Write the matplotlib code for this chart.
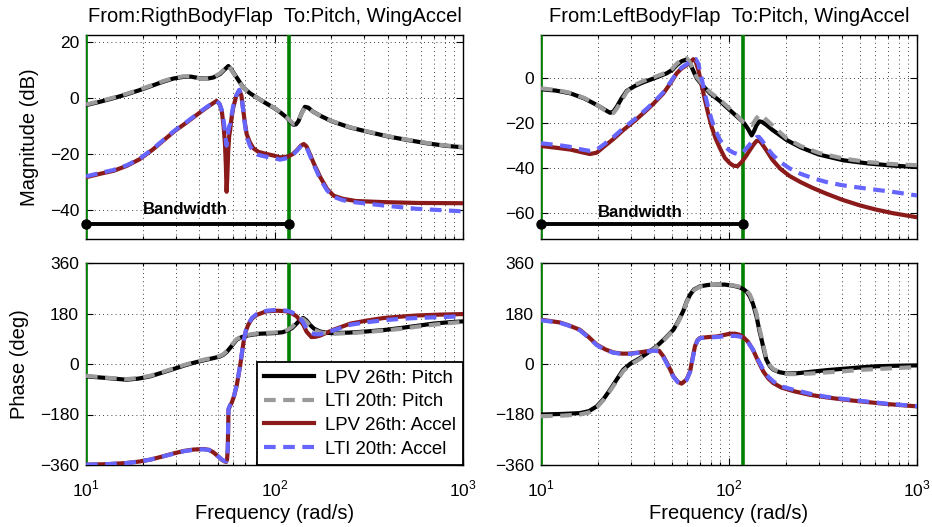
import matplotlib
matplotlib.use("Agg")
import matplotlib.pyplot as plt
from matplotlib.ticker import LogLocator, NullFormatter

plt.rcParams['font.family'] = ['Liberation Sans', 'DejaVu Sans']
plt.rcParams['mathtext.fontset'] = 'custom'
plt.rcParams['mathtext.rm'] = 'Liberation Sans'

# ---------------- data ----------------
titles = ["From:RigthBodyFlap  To:Pitch, WingAccel",
          "From:LeftBodyFlap  To:Pitch, WingAccel"]
legend_labels = ["LPV 26th: Pitch", "LTI 20th: Pitch", "LPV 26th: Accel", "LTI 20th: Accel"]
bandwidth_freq = 119
bandwidth_level = [-45, -65]

# top-left magnitude (dB)
w_tl_p = [10, 12, 14, 16.5, 19.3, 22.5, 25.7, 29, 32.8, 36, 40.3, 44, 47.4, 51.4, 54.5, 56.9,
          59, 63.0, 68.3, 74, 80.5, 90, 100, 107, 116, 122, 126, 130, 134, 139, 145, 151, 160,
          175, 200, 252, 320, 400, 500, 650, 800, 1000]
mag_tl_lpv_p = [-2.5, -1.2, 0, 1.4, 2.9, 4.5, 5.9, 7.0, 7.6, 7.7, 7.1, 7.0, 7.4, 8.6, 10.3, 11.5,
                10.3, 7.4, 3.8, 1.8, 0.2, -1.8, -3.6, -5.0, -6.9, -8.5, -9.5, -9.4, -8.2, -5.5,
                -3.1, -3.4, -4.8, -6.3, -8.2, -10.5, -12.2, -13.7, -14.9, -16.2, -17.0, -17.6]
mag_tl_lti_p = [-2.3, -1.0, 0.2, 1.6, 3.1, 4.7, 6.1, 7.2, 7.8, 7.8, 7.0, 6.9, 7.5, 8.9, 10.6, 11.8,
                10.1, 7.2, 3.7, 1.8, 0.2, -1.7, -3.5, -4.9, -6.8, -8.3, -9.2, -9.2, -8.0, -5.6,
                -3.3, -3.5, -4.8, -6.3, -8.1, -10.4, -12.1, -13.6, -14.8, -16.1, -16.9, -17.5]
w_tl_a = [10, 12, 14, 16.5, 19.3, 22.5, 25.7, 29.5, 34.2, 39, 43.6, 47, 49.3, 51, 52.5, 53.7,
          54.6, 55.2, 55.7, 56.2, 56.8, 57.5, 58.1, 59.2, 60.4, 62.5, 65.0, 66.7, 68.3, 69.7,
          71.2, 74, 77.2, 82, 90.9, 100, 107, 118, 125, 132, 138, 143, 148, 154, 162, 175, 190,
          206, 230, 270, 378, 568, 1000]
mag_tl_lpv_a = [-28.3, -27, -26, -24.2, -21.8, -18.5, -15.2, -11.8, -8.7, -5.8, -3.4, -1.9, -1.0,
                -2.0, -4.5, -10, -16.3, -24, -33.5, -28, -19, -13.5, -11.7, -7, -3.4, 0.5, 2.8,
                1.0, -4.5, -9, -12.9, -15.8, -17.9, -19.2, -20.0, -20.6, -21.2, -20.9, -20,
                -18.5, -17.0, -16.4, -17.3, -20, -23.5, -28.3, -32.5, -34.9, -36.0, -36.8,
                -37.2, -37.5, -37.6]
mag_tl_lti_a = [-28.0, -26.7, -25.7, -24.0, -21.6, -18.3, -15.0, -11.6, -8.5, -5.6, -3.2, -1.8,
                -1.1, -2.0, -4.2, -8, -12, -15, -17, -15, -12, -10, -9.5, -6, -2.8, 0.8, 3.0, 1.3,
                -4.5, -9.5, -13.8, -17, -19, -20.3, -21.0, -21.5, -22.0, -21.4, -20.3, -18.7,
                -17.2, -16.6, -17.6, -20.5, -24, -29, -33, -35.3, -36.5, -37.3, -38.4, -39.6,
                -40.5]

# top-right magnitude (dB)
w_tr_p = [10, 12, 14.3, 17, 19.8, 21.8, 23.3, 24.3, 25.3, 26.8, 28.6, 31.5, 35.0, 40, 46.6, 50,
          52.7, 56, 59.6, 62.5, 67.3, 72, 79.2, 89.6, 101, 110, 119, 126, 132, 136, 140, 145,
          150, 158, 170, 203, 240, 300, 406, 550, 750, 1000]
mag_tr_lpv_p = [-4.9, -5.5, -6.7, -9.0, -11.9, -14.0, -15.4, -14.8, -12.7, -9.0, -5.6, -3.5,
                -1.8, 0, 2.2, 3.8, 5.9, 7.6, 8.4, 6.0, 0, -3.0, -6.7, -10.2, -14.2, -17.0, -19.5,
                -22.5, -25.5, -23.5, -21.0, -19.2, -19.5, -20.8, -23.0, -27.6, -30.8, -34.0,
                -36.6, -38.0, -39.0, -39.6]
mag_tr_lti_p = [-4.5, -5.2, -6.5, -8.8, -11.8, -14.2, -15.8, -15.5, -13.5, -10.0, -6.0, -3.0,
                -1.2, 0.5, 2.6, 4.3, 6.5, 8.3, 9.0, 6.5, 0.5, -2.5, -6.2, -9.6, -13.6, -16.5,
                -19.5, -20.5, -20.9, -19.5, -17.8, -16.4, -16.8, -18.5, -21.0, -26.9, -30.2,
                -33.3, -35.8, -37.4, -38.3, -38.8]
w_tr_a = [10, 12.6, 14.3, 16.5, 18.2, 19.8, 21.4, 24.2, 27.4, 31.5, 36.5, 40, 44.8, 49, 52.7, 56,
          59.6, 62.2, 64.6, 66.5, 68.7, 71.5, 74.5, 77.5, 80.8, 85, 89.6, 95, 101, 105.5, 111,
          117, 123, 129, 135, 140, 144, 149, 158, 170, 187, 210, 240, 280, 330, 400, 496, 600,
          746, 1000]
mag_tr_lpv_a = [-30.2, -31.2, -31.8, -33.0, -33.8, -33.2, -30.8, -27.2, -23.1, -19.0, -14.2,
                -11.0, -6.7, -2.0, 2.2, 4.4, 5.9, 7.2, 8.5, 7.5, 3.7, -3, -9.7, -15.8, -21.6,
                -27, -31.3, -35.5, -37.9, -39.0, -39.2, -37.3, -34.8, -32.1, -29.6, -28.0,
                -27.6, -29.0, -32.1, -36.3, -40.3, -43.6, -46.3, -49.0, -51.5, -54.2, -56.7,
                -58.5, -60.2, -62.0]
mag_tr_lti_a = [-29.0, -29.9, -30.6, -31.8, -32.4, -31.8, -29.8, -26.3, -22.3, -18.3, -13.6,
                -10.5, -6.2, -1.5, 2.5, 4.8, 6.3, 7.5, 8.4, 8.6, 6.5, 0, -7, -13, -18.5, -23.5,
                -27.5, -30.5, -32.3, -33.2, -33.8, -33.6, -31.5, -29.5, -27.5, -26.3, -26.1,
                -27.5, -30.6, -34.0, -37.3, -40.2, -42.6, -44.6, -46.3, -47.7, -48.8, -49.7,
                -50.7, -52.3]

# bottom-left phase (deg)
w_bl_p = [10, 12.9, 16.4, 19, 21.9, 25, 29.1, 33, 37.1, 42, 47.4, 51, 53.6, 56, 58.1, 60.5, 63.1,
          67, 71.3, 77, 83.6, 98.7, 110, 116, 124, 131, 137, 142, 148, 154, 162, 174, 190, 205,
          250, 308, 380, 464, 570, 698, 850, 1000]
ph_bl_lpv_p = [-44, -50, -56, -52, -44, -32, -18, -6, 4, 13, 21, 26, 33, 44, 57, 72, 87, 96, 101,
               105, 108, 110, 113, 118, 128, 144, 158, 164, 155, 140, 126, 116, 111, 110, 112,
               116, 121, 128, 136, 144, 149, 152]
ph_bl_lti_p = [-42, -49, -54, -50, -42, -30, -16, -4, 6, 15, 23, 28, 35, 47, 60, 75, 89, 98, 103,
               107, 110, 112, 115, 120, 132, 150, 160, 160, 150, 136, 122, 113, 109, 108, 110,
               114, 119, 125, 133, 140, 146, 150]
w_bl_a = [10, 13, 16.4, 19, 21.9, 25, 29.1, 33, 37.1, 41.9, 45, 47.4, 50, 52.5, 54.2, 55.4, 56.0,
          56.5, 57.0, 58, 59.2, 61, 63.1, 65.6, 68.4, 70.5, 72.6, 76, 80.5, 90.8, 103, 116, 124,
          131, 137, 142, 148, 157, 165, 174, 190, 205, 253, 310, 380, 470, 570, 750, 1000]
ph_bl_lpv_a = [-359, -357, -353, -348, -341, -331, -319, -310, -305, -303, -306, -315, -328, -341,
               -347, -349, -340, -305, -163, -150, -139, -115, -75, -10, 75, 118, 140, 162, 175,
               188, 190, 188, 180, 170, 155, 140, 115, 96, 97, 101, 112, 122, 144, 155, 164, 169,
               173, 176, 178]
ph_bl_lti_a = [-359, -357, -353, -348, -341, -331, -320, -311, -306, -304, -307, -316, -328, -340,
               -346, -347, -338, -300, -160, -148, -137, -113, -73, -8, 78, 120, 143, 165, 178,
               190, 193, 190, 184, 174, 162, 148, 125, 110, 106, 106, 113, 120, 140, 149, 156,
               161, 164, 167, 170]

# bottom-right phase (deg)
w_br_p = [10, 13, 16.1, 18, 19.8, 21.5, 23.3, 25.3, 27.4, 30, 33.6, 37, 41.2, 45.5, 50.6, 54,
          57.2, 59.5, 62.1, 65, 70.2, 78, 86, 95, 105.5, 113, 119, 124, 129, 134, 140, 145, 149,
          154, 158, 165, 172, 185, 203, 230, 270, 330, 406, 500, 610, 800, 1000]
ph_br_lpv_p = [-180, -178, -175, -168, -151, -125, -92, -55, -20, 2, 21, 40, 63, 90, 122, 155,
               190, 222, 247, 265, 277, 282, 283, 283, 279, 274, 267, 258, 241, 215, 170, 120,
               87, 45, 15, -8, -20, -29, -34, -33, -28, -22, -17, -12, -8, -6, -5]
ph_br_lti_p = [-186, -184, -180, -173, -155, -128, -96, -60, -25, -2, 18, 37, 61, 88, 120, 153,
               188, 220, 245, 263, 276, 281, 283, 283, 280, 276, 270, 262, 248, 222, 180, 128,
               95, 52, 20, -5, -18, -28, -36, -36, -34, -30, -26, -21, -18, -14, -11]
w_br_a = [10, 12.6, 14, 16.1, 18, 19.8, 22, 24.3, 27, 29.7, 34, 39.5, 42.5, 44.8, 47.5, 50.6,
          53.5, 56.0, 59.5, 62.1, 64.0, 65.9, 68, 70.2, 78, 86, 95, 101, 108, 114, 119, 126, 134,
          143, 152, 162, 172, 190, 221, 270, 330, 410, 496, 700, 1000]
ph_br_lpv_a = [158, 148, 138, 122, 95, 69, 52, 41, 37, 37, 42, 49, 47, 27, -5, -44, -64, -70,
               -55, -26, 20, 63, 85, 93, 96, 98, 104, 108, 108, 104, 96, 80, 51, 10, -26, -52,
               -68, -84, -97, -110, -119, -127, -133, -143, -151]
ph_br_lti_a = [156, 147, 137, 120, 93, 67, 50, 40, 36, 36, 41, 48, 45, 24, -8, -46, -65, -70,
               -57, -28, 17, 60, 83, 92, 95, 96, 99, 100, 100, 98, 93, 78, 52, 14, -20, -46, -62,
               -80, -92, -106, -117, -125, -131, -142, -150]

# ---------------- styling ----------------
C_BLACK = 'black'
C_GRAY = '#9a9a9a'
C_RED = '#8b1a1a'
C_BLUE = '#6666ff'
C_GREEN = '#008000'
LW = 3.0
DASH = (2.8, 1.8)
FS_LABEL = 14.5
FS_TICK = 12.5

fig = plt.figure(figsize=(9.32, 5.27), dpi=100)
W, H = 932, 527


def add_ax(x0, x1, ytop, ybot):
    return fig.add_axes([x0 / W, 1 - ybot / H, (x1 - x0) / W, (ybot - ytop) / H])


ax_tl = add_ax(86, 463, 35, 239)
ax_tr = add_ax(541, 917, 35, 239)
ax_bl = add_ax(86, 463, 263, 465)
ax_br = add_ax(541, 917, 263, 465)

panels = [
    (ax_tl, w_tl_p, mag_tl_lpv_p, mag_tl_lti_p, w_tl_a, mag_tl_lpv_a, mag_tl_lti_a),
    (ax_tr, w_tr_p, mag_tr_lpv_p, mag_tr_lti_p, w_tr_a, mag_tr_lpv_a, mag_tr_lti_a),
    (ax_bl, w_bl_p, ph_bl_lpv_p, ph_bl_lti_p, w_bl_a, ph_bl_lpv_a, ph_bl_lti_a),
    (ax_br, w_br_p, ph_br_lpv_p, ph_br_lti_p, w_br_a, ph_br_lpv_a, ph_br_lti_a),
]

handles = None
for ax, wp, lpv_p, lti_p, wa, lpv_a, lti_a in panels:
    ax.set_xscale('log')
    ax.set_xlim(10, 1000)
    ax.axvline(10, color=C_GREEN, lw=2.6, zorder=3)
    ax.axvline(bandwidth_freq, color=C_GREEN, lw=2.6, zorder=3)
    h1, = ax.plot(wp, lpv_p, color=C_BLACK, lw=LW, zorder=4, solid_joinstyle='round')
    h2, = ax.plot(wp, lti_p, color=C_GRAY, lw=LW, dashes=DASH, zorder=5)
    h3, = ax.plot(wa, lpv_a, color=C_RED, lw=LW, zorder=4, solid_joinstyle='round')
    h4, = ax.plot(wa, lti_a, color=C_BLUE, lw=LW, dashes=DASH, zorder=5)
    if handles is None:
        handles = [h1, h2, h3, h4]
    ax.grid(True, which='major', axis='both', ls=(0, (1, 4)), color='black', lw=0.6)
    ax.grid(True, which='minor', axis='x', ls=(0, (1, 4)), color='black', lw=0.6)
    ax.xaxis.set_minor_locator(LogLocator(base=10, subs=range(2, 10)))
    ax.xaxis.set_minor_formatter(NullFormatter())
    ax.tick_params(which='both', direction='in', top=True, right=True, labelsize=FS_TICK,
                   width=0.8, pad=5)
    ax.tick_params(axis='x', which='both', pad=10)
    ax.tick_params(which='major', length=5)
    ax.tick_params(which='minor', length=2.5)
    for s in ax.spines.values():
        s.set_linewidth(1.0)

# magnitude axes
ax_tl.set_ylim(-50.4, 22.6)
ax_tl.set_yticks([-40, -20, 0, 20])
ax_tr.set_ylim(-71.7, 19.3)
ax_tr.set_yticks([-60, -40, -20, 0])
for ax in (ax_tl, ax_tr):
    ax.tick_params(labelbottom=False)
    ax.set_yticklabels([t.get_text().replace('-', '\u2212') for t in ax.get_yticklabels()])
for ax, t in zip((ax_tl, ax_tr), titles):
    ax.set_title(t, fontsize=FS_LABEL, pad=9)
ax_tl.set_ylabel('Magnitude (dB)', fontsize=FS_LABEL, labelpad=8)

# bandwidth markers
for ax, lev in zip((ax_tl, ax_tr), bandwidth_level):
    ax.plot([10, bandwidth_freq], [lev, lev], color='black', lw=2.8, marker='o', ms=6.5,
            zorder=6, clip_on=False)
    ax.text(33.7, lev + 5.3, 'Bandwidth', fontsize=12, fontweight='bold', ha='center',
            va='center', zorder=6)

# phase axes
for ax in (ax_bl, ax_br):
    ax.set_ylim(-360, 360)
    ax.set_yticks([-360, -180, 0, 180, 360])
    ax.set_yticklabels(['\u2212360', '\u2212180', '0', '180', '360'])
    ax.set_xticks([10, 100, 1000])
    ax.set_xticklabels([r'$10^{1}$', r'$10^{2}$', r'$10^{3}$'])
    ax.set_xlabel('Frequency (rad/s)', fontsize=FS_LABEL, labelpad=3)
ax_bl.set_ylabel('Phase (deg)', fontsize=FS_LABEL, labelpad=8)

leg = ax_bl.legend(handles, legend_labels, loc='lower right', borderaxespad=0, fontsize=13.4,
                   handlelength=2.7, fancybox=False, framealpha=1, edgecolor='black',
                   borderpad=0.4, labelspacing=0.35, handletextpad=0.55)
leg.get_frame().set_linewidth(1.3)
leg.set_zorder(10)

fig.savefig('out.png', dpi=100)
